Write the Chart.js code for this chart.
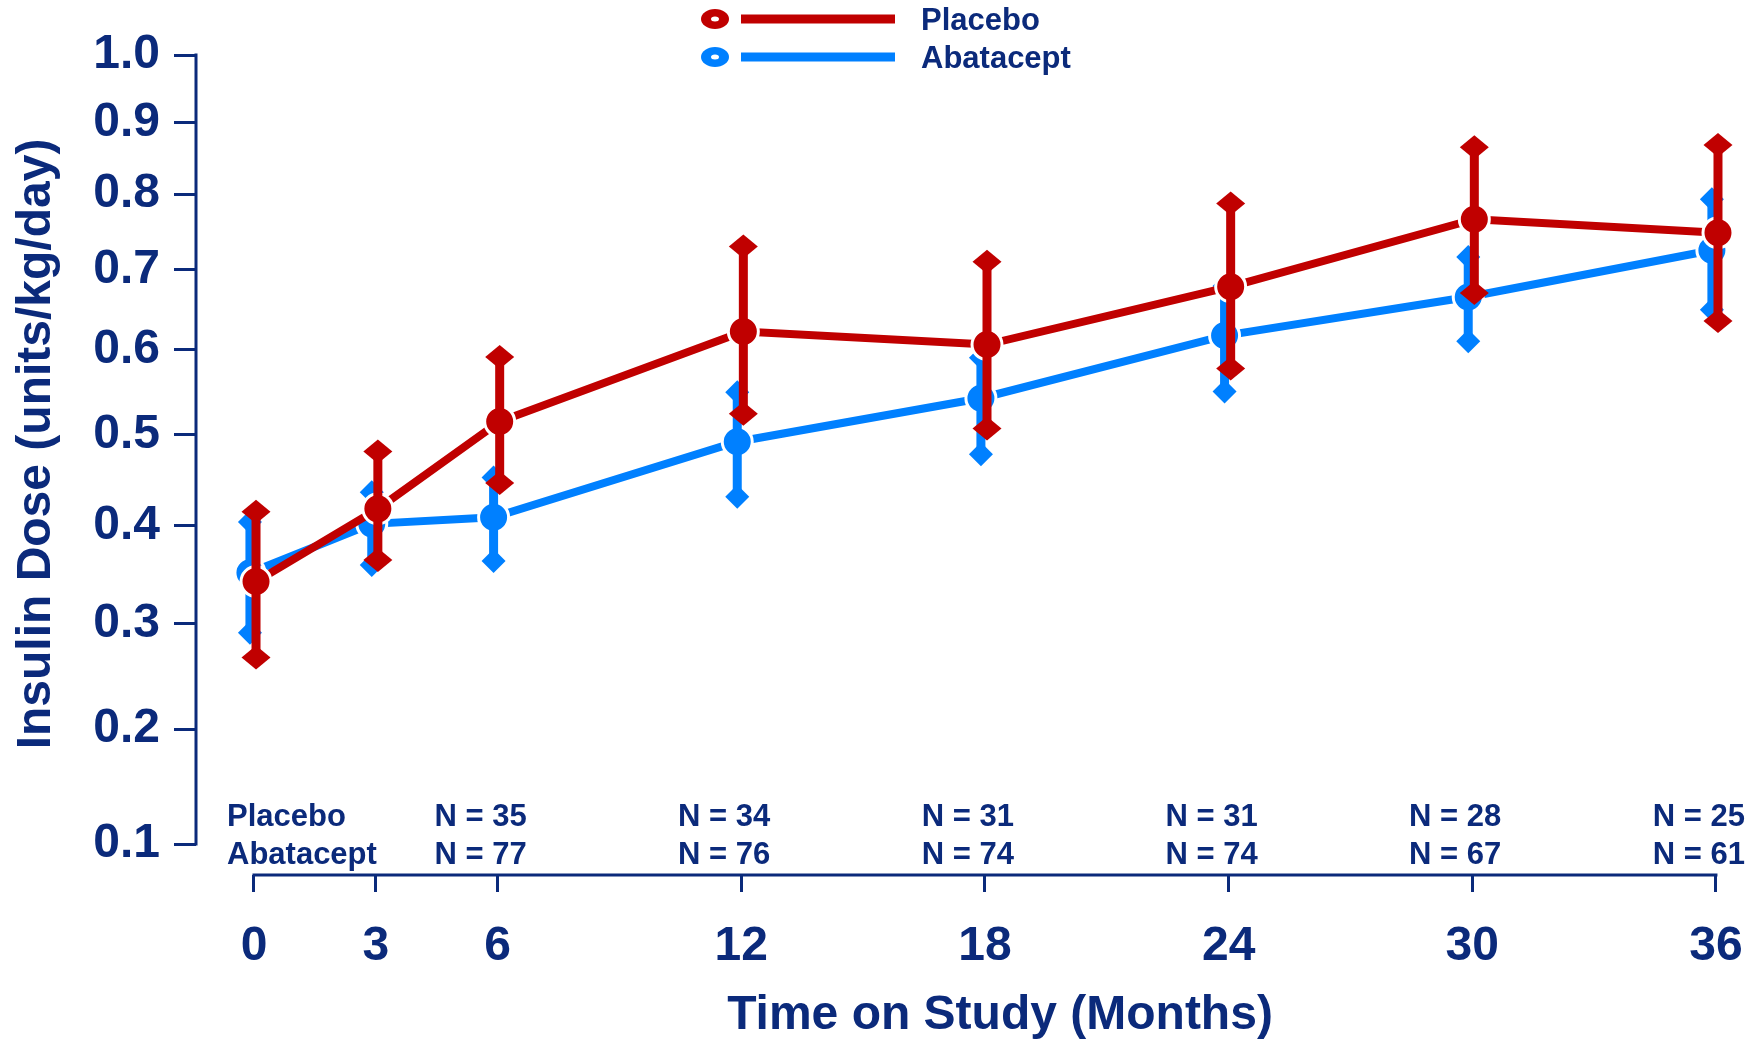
<!DOCTYPE html>
<html>
<head>
<meta charset="utf-8">
<script src="https://cdn.jsdelivr.net/npm/chart.js@4.4.1/dist/chart.umd.min.js"></script>
<style>
  html, body { margin: 0; padding: 0; background: #fff; }
</style>
</head>
<body>
<canvas id="chart" width="1753" height="1043"></canvas>
<script>
// data
const months = [0, 3, 6, 12, 18, 24, 30, 36];
const placeboMean = [0.342, 0.418, 0.515, 0.622, 0.606, 0.678, 0.766, 0.748];
const placeboLow  = [0.267, 0.364, 0.446, 0.524, 0.507, 0.577, 0.670, 0.635];
const placeboHigh = [0.415, 0.481, 0.591, 0.730, 0.710, 0.787, 0.865, 0.868];
const abataceptMean = [0.351, 0.402, 0.409, 0.492, 0.542, 0.617, 0.665, 0.725];
const abataceptLow  = [0.291, 0.359, 0.363, 0.431, 0.478, 0.550, 0.610, 0.649];
const abataceptHigh = [0.404, 0.436, 0.452, 0.549, 0.590, 0.679, 0.716, 0.793];
const yTicks = [0.1, 0.2, 0.3, 0.4, 0.5, 0.6, 0.7, 0.8, 0.9, 1.0];
const xTicks = [0, 3, 6, 12, 18, 24, 30, 36];
const nMonths = [6, 12, 18, 24, 30, 36];
const placeboN = [35, 34, 31, 31, 28, 25];
const abataceptN = [77, 76, 74, 74, 67, 61];

const NAVY = '#0b2a7b';
const RED = '#c00000';
const BLUE = '#0080ff';
const FONT = '"Liberation Sans", Arial, sans-serif';

// the y axis of the original is spaced like log(1 + v)
const tr = v => Math.log(1 + v);

function makeDataset(label, mean, low, high, color, dodge, diamondW) {
    return {
        label: label,
        data: months.map((m, i) => ({ x: m + dodge, y: tr(mean[i]) })),
        low: low,
        high: high,
        diamondW: diamondW,
        borderColor: color,
        backgroundColor: color,
        borderWidth: 8,
        pointRadius: 15,
        pointBorderWidth: 3,
        pointBorderColor: '#fff',
        pointBackgroundColor: color,
        tension: 0
    };
}

function diamond(ctx, x, y, hw, hh) {
    ctx.beginPath();
    ctx.moveTo(x, y - hh);
    ctx.lineTo(x + hw, y);
    ctx.lineTo(x, y + hh);
    ctx.lineTo(x - hw, y);
    ctx.closePath();
    ctx.fill();
}

const errorBars = {
    id: 'errorBars',
    afterDatasetDraw(chart, args) {
        const ds = chart.data.datasets[args.index];
        const yScale = chart.scales.y;
        const ctx = chart.ctx;
        ctx.save();
        ctx.strokeStyle = ds.borderColor;
        ctx.fillStyle = ds.borderColor;
        ctx.lineWidth = 9;
        args.meta.data.forEach((pt, i) => {
            const top = yScale.getPixelForValue(tr(ds.high[i]));
            const bot = yScale.getPixelForValue(tr(ds.low[i]));
            ctx.beginPath();
            ctx.moveTo(pt.x, top);
            ctx.lineTo(pt.x, bot);
            ctx.stroke();
            diamond(ctx, pt.x, top, ds.diamondW, 12);
            diamond(ctx, pt.x, bot, ds.diamondW, 12);
        });
        ctx.restore();
    }
};

// axis lines, titles, legend and the N table
const decorations = {
    id: 'decorations',
    afterDraw(chart) {
        const ctx = chart.ctx;
        const xs = chart.scales.x;
        const ys = chart.scales.y;
        const area = chart.chartArea;
        ctx.save();

        ctx.strokeStyle = NAVY;
        ctx.lineWidth = 3;
        ctx.beginPath();
        ctx.moveTo(area.left, ys.getPixelForValue(tr(1.0)) - 1.5);
        ctx.lineTo(area.left, ys.getPixelForValue(tr(0.1)) + 1.5);
        ctx.moveTo(xs.getPixelForValue(0) - 1.5, area.bottom);
        ctx.lineTo(xs.getPixelForValue(36) + 1.5, area.bottom);
        ctx.stroke();

        ctx.fillStyle = NAVY;
        ctx.font = 'bold 48px ' + FONT;
        ctx.textAlign = 'center';
        ctx.textBaseline = 'middle';
        ctx.fillText('Time on Study (Months)', 1000, 1016);
        ctx.save();
        ctx.translate(37, 444);
        ctx.rotate(-Math.PI / 2);
        ctx.fillText('Insulin Dose (units/kg/day)', 0, 0);
        ctx.restore();

        // N at risk
        ctx.font = 'bold 31px ' + FONT;
        ctx.textBaseline = 'alphabetic';
        ctx.textAlign = 'left';
        ctx.fillText('Placebo', 227, 826);
        ctx.fillText('Abatacept', 227, 864);
        ctx.textAlign = 'right';
        nMonths.forEach((m, i) => {
            const px = xs.getPixelForValue(m) + 29;
            ctx.fillText('N = ' + placeboN[i], px, 826);
            ctx.fillText('N = ' + abataceptN[i], px, 864);
        });

        // legend
        const items = [['Placebo', RED, 19], ['Abatacept', BLUE, 57]];
        items.forEach(([label, color, y]) => {
            ctx.fillStyle = color;
            ctx.beginPath();
            ctx.ellipse(715, y, 14, 10, 0, 0, Math.PI * 2);
            ctx.fill();
            ctx.fillStyle = '#fff';
            ctx.beginPath();
            ctx.ellipse(715, y, 4, 2.5, 0, 0, Math.PI * 2);
            ctx.fill();
            ctx.strokeStyle = color;
            ctx.lineWidth = 9;
            ctx.beginPath();
            ctx.moveTo(741, y);
            ctx.lineTo(895, y);
            ctx.stroke();
            ctx.fillStyle = NAVY;
            ctx.textAlign = 'left';
            ctx.fillText(label, 921, y + 11);
        });
        ctx.restore();
    }
};

// 1.0 sits at 55px, 0.1 at 844px, the x axis at 875px
const yPerPx = Math.log(2 / 1.1) / 789;

new Chart(document.getElementById('chart'), {
    type: 'line',
    data: {
        datasets: [
            makeDataset('Placebo', placeboMean, placeboLow, placeboHigh, RED, 0.05, 14.5),
            makeDataset('Abatacept', abataceptMean, abataceptLow, abataceptHigh, BLUE, -0.1, 12)
        ]
    },
    options: {
        responsive: false,
        animation: false,
        devicePixelRatio: 1,
        layout: { padding: { top: 55, right: 8, left: 0, bottom: 0 } },
        plugins: {
            legend: { display: false },
            tooltip: { enabled: false }
        },
        scales: {
            x: {
                type: 'linear',
                min: -1.428,
                max: 36.469,
                afterFit: s => { s.height = 168; s.paddingLeft = 0; s.paddingRight = 0; },
                afterBuildTicks: s => { s.ticks = xTicks.map(v => ({ value: v })); },
                border: { display: false },
                grid: { drawOnChartArea: false, drawTicks: true, tickLength: 17, lineWidth: 3, color: NAVY },
                ticks: {
                    color: NAVY,
                    font: { family: FONT, size: 48, weight: 'bold' },
                    padding: 26,
                    maxRotation: 0,
                    autoSkip: false
                }
            },
            y: {
                type: 'linear',
                min: tr(0.1) - 31 * yPerPx,
                max: tr(1.0),
                afterFit: s => { s.width = 196; s.paddingTop = 0; s.paddingBottom = 0; },
                afterBuildTicks: s => { s.ticks = yTicks.map(v => ({ value: tr(v) })); },
                border: { display: false },
                grid: { drawOnChartArea: false, drawTicks: true, tickLength: 22, lineWidth: 3, color: NAVY },
                ticks: {
                    color: NAVY,
                    font: { family: FONT, size: 48, weight: 'bold' },
                    padding: 14,
                    autoSkip: false,
                    callback: (value, index) => yTicks[index].toFixed(1)
                }
            }
        }
    },
    plugins: [errorBars, decorations]
});
</script>
</body>
</html>
